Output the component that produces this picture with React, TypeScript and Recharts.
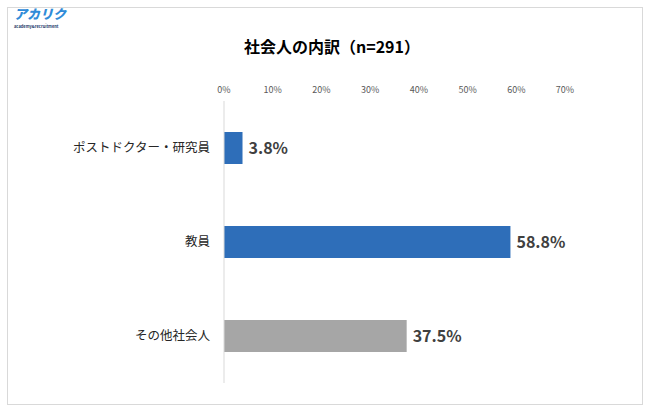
import React from 'react';
import { BarChart, Bar, XAxis, YAxis, Cell, LabelList } from 'recharts';

// 社会人の内訳（n=291）
const categories = ['ポストドクター・研究員', '教員', 'その他社会人'];
const shares = [3.8, 58.8, 37.5];
const barColors = ['#2e6eb9', '#2e6eb9', '#a6a6a6'];
const xTicks = [0, 10, 20, 30, 40, 50, 60, 70];

const data = categories.map((name, i) => ({ name, value: shares[i] }));

const FONT = '"Noto Sans CJK JP", "Noto Sans", sans-serif';

const App = () => {
  return (
    <div style={{ position: 'fixed', left: 0, top: 0, width: 650, height: 412, background: '#fff', fontFamily: FONT }}>
      <div
        style={{
          position: 'absolute',
          left: 7,
          top: 7,
          width: 634,
          height: 396,
          border: '1px solid #d9d9d9',
        }}
      />
      {/* logo */}
      <div
        style={{
          position: 'absolute',
          left: 14,
          top: 7,
          fontSize: 13,
          lineHeight: '13px',
          fontWeight: 900,
          fontStyle: 'italic',
          color: '#2f8bd8',
        }}
      >
        アカリク
      </div>
      <div
        style={{
          position: 'absolute',
          left: 14,
          top: 24,
          fontSize: 4,
          lineHeight: '4px',
          color: '#1d3a6b',
          fontWeight: 700,
        }}
      >
        academy&amp;recruitment
      </div>
      <div
        style={{
          position: 'absolute',
          left: 0,
          width: 664,
          top: 34,
          textAlign: 'center',
          fontSize: 16,
          fontWeight: 700,
          color: '#000',
        }}
      >
        社会人の内訳（n=291）
      </div>
      <div style={{ position: 'absolute', left: 0, top: 0 }}>
        <BarChart
          width={650}
          height={412}
          data={data}
          layout="vertical"
          margin={{ top: 81, right: 85, bottom: 29, left: 0 }}
          barSize={32}
        >
          <XAxis
            type="number"
            orientation="top"
            domain={[0, 70]}
            ticks={xTicks}
            height={20}
            axisLine={false}
            tickLine={false}
            tickFormatter={(v) => `${v}%`}
            tick={{ fontSize: 9, fill: '#595959', fontFamily: FONT }}
          />
          <YAxis
            type="category"
            dataKey="name"
            width={224}
            axisLine={{ stroke: '#d9d9d9' }}
            tickLine={false}
            tickMargin={8}
            tick={{ fontSize: 12.5, fill: '#262626', fontFamily: FONT }}
          />
          <Bar dataKey="value" isAnimationActive={false}>
            {data.map((d, i) => (
              <Cell key={d.name} fill={barColors[i]} />
            ))}
            <LabelList
              dataKey="value"
              position="right"
              offset={6}
              formatter={(v: number) => `${v.toFixed(1)}%`}
              style={{ fontSize: 16, fontWeight: 700, fill: '#404040', fontFamily: FONT }}
            />
          </Bar>
        </BarChart>
      </div>
    </div>
  );
};

export default App;
